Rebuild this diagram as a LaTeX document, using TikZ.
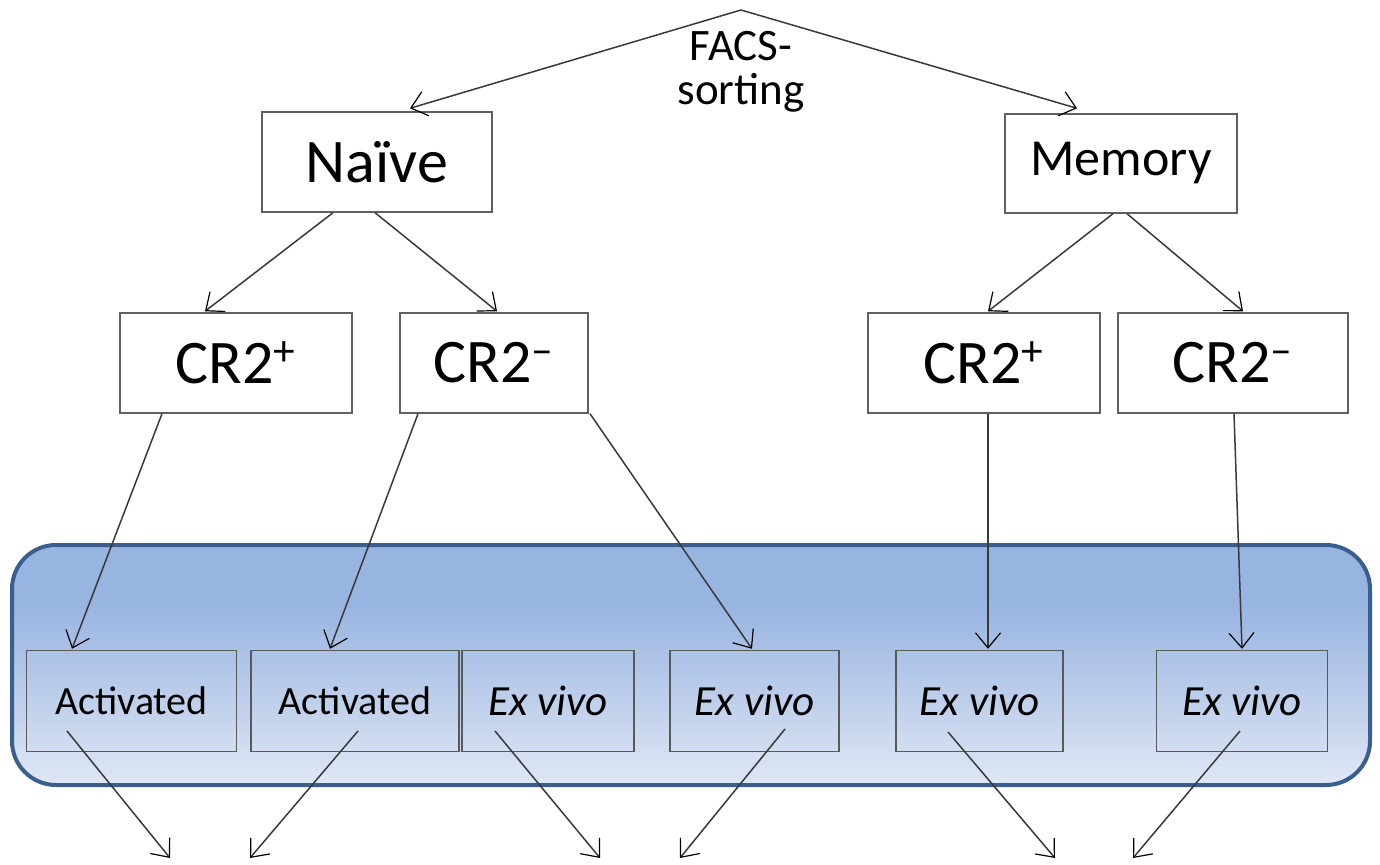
\documentclass[tikz,border=0pt]{standalone}
\usepackage{fontspec}
\setmainfont{Carlito}
\usetikzlibrary{arrows.meta}
\definecolor{paneltop}{HTML}{98B4E1}
\definecolor{panelbot}{HTML}{DFE7F4}
\definecolor{panelrim}{HTML}{3A5F8F}
\pgfdeclareverticalshading{panelfade}{100bp}{color(0bp)=(panelbot); color(25bp)=(panelbot); color(63bp)=(paneltop); color(100bp)=(paneltop)}
\begin{document}
\begin{tikzpicture}[x=0.5pt,y=-0.5pt,
  cell/.style={draw=gray!75!black, line width=0.7pt, fill=white, inner sep=0pt, minimum height=50pt},
  leaf/.style={draw=black!65, line width=0.7pt, inner sep=0pt, minimum height=50.5pt, font=\fontsize{20}{24}\selectfont},
  arr/.style={draw=gray!45!black, line width=0.75pt, -{Straight Barb[length=7.5pt,width=12.5pt,line width=0.6pt,color=black]}}]
\useasboundingbox (0,0) rectangle (1380,865);

% blue panel behind the culture boxes
\path[shading=panelfade, draw=panelrim, line width=2pt, rounded corners=22pt] (12,545) rectangle (1370,785);

\node[font=\fontsize{22.5}{22}\selectfont, align=center] (facs) at (741,72) {FACS-\\sorting};
\coordinate (apex) at (741,10);

\node[cell, minimum width=115pt, font=\fontsize{31}{36}\selectfont] (naive) at (377,162) {Naïve};
\node[cell, minimum width=116pt, minimum height=49.5pt, font=\fontsize{26}{30}\selectfont] (memory) at (1121,163.5) {Memory};

\node[cell, minimum width=116pt, font=\fontsize{31}{36}\selectfont] (crpl) at (236,363) {CR2\textsuperscript{+}};
\node[cell, minimum width=94pt, font=\fontsize{31}{36}\selectfont] (crml) at (494,363) {CR2\textsuperscript{–}};
\node[cell, minimum width=116pt, font=\fontsize{31}{36}\selectfont] (crpr) at (984,363) {CR2\textsuperscript{+}};
\node[cell, minimum width=115pt, font=\fontsize{31}{36}\selectfont] (crmr) at (1233,363) {CR2\textsuperscript{–}};

\node[leaf, minimum width=105pt] (act1) at (131.5,701) {Activated};
\node[leaf, minimum width=104pt] (act2) at (355,701) {Activated};
\node[leaf, minimum width=86pt, font=\fontsize{21.5}{24}\selectfont] (exv1) at (548,701) {\textit{Ex vivo}};
\node[leaf, minimum width=84.5pt, font=\fontsize{21.5}{24}\selectfont] (exv2) at (754.5,701) {\textit{Ex vivo}};
\node[leaf, minimum width=83.5pt, font=\fontsize{21.5}{24}\selectfont] (exv3) at (979.5,701) {\textit{Ex vivo}};
\node[leaf, minimum width=85.5pt, font=\fontsize{21.5}{24}\selectfont] (exv4) at (1242,701) {\textit{Ex vivo}};

\coordinate (out1) at (170,858);
\coordinate (out2) at (250,858);
\coordinate (out3) at (600,858);
\coordinate (out4) at (680,858);
\coordinate (out5) at (1055,858);
\coordinate (out6) at (1133,858);

\path[arr] (apex) -- ([shift={(33,-3)}]naive.north);
\path[arr] (apex) -- ([shift={(-44,-5)}]memory.north);

\path[arr] ([shift={(-44,0)}]naive.south) -- ([shift={(-31,-1)}]crpl.north);
\path[arr] ([shift={(-2,0)}]naive.south) -- ([shift={(3,-1)}]crml.north);
\path[arr] ([shift={(-8,0)}]memory.south) -- ([shift={(4,-1)}]crpr.north);
\path[arr] ([shift={(6,0)}]memory.south) -- ([shift={(10,-1)}]crmr.north);

\path[arr] ([shift={(-74,0)}]crpl.south) -- ([shift={(-59.5,-1)}]act1.north);
\path[arr] ([shift={(-76,0)}]crml.south) -- ([shift={(-25,-1)}]act2.north);
\path[arr] ([shift={(96,0)}]crml.south) -- ([shift={(-2.5,-1)}]exv2.north);
\path[arr] ([shift={(4,0)}]crpr.south) -- ([shift={(8.5,-1)}]exv3.north);
\path[arr] ([shift={(1,0)}]crmr.south) -- ([shift={(0,-1)}]exv4.north);

\path[arr] ([shift={(-64.5,30)}]act1.center) -- (out1);
\path[arr] ([shift={(3,30)}]act2.center) -- (out2);
\path[arr] ([shift={(-53,30)}]exv1.center) -- (out3);
\path[arr] ([shift={(30.5,28)}]exv2.center) -- (out4);
\path[arr] ([shift={(-31.5,31)}]exv3.center) -- (out5);
\path[arr] ([shift={(-2,30)}]exv4.center) -- (out6);
\end{tikzpicture}
\end{document}
